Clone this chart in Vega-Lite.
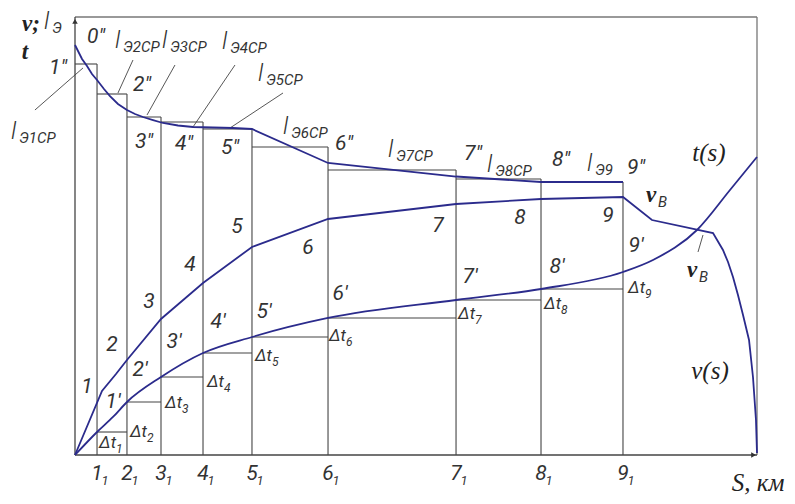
{
"$schema":"https://vega.github.io/schema/vega-lite/v6.json",
"width":682,"height":438,"autosize":"none",
"padding":{"left":75,"top":17,"right":38,"bottom":49},
"background":"white",
"config":{"view":{"stroke":null}},
"datasets":{
 "frame":[{"x":0,"y":100,"x2":100,"y2":100},{"x":100,"y":0,"x2":100,"y2":100}],
 "axes":[{"x":0,"y":0,"x2":0,"y2":100},{"x":0,"y":0,"x2":100,"y2":0}],
 "grid":[
  {"x":3.23,"x2":3.23,"y":0,"y2":89.27},{"x":7.62,"x2":7.62,"y":0,"y2":82.42},{"x":12.61,"x2":12.61,"y":0,"y2":77.17},
  {"x":18.77,"x2":18.77,"y":0,"y2":76.03},{"x":25.95,"x2":25.95,"y":0,"y2":74.43},{"x":37.10,"x2":37.10,"y":0,"y2":70.32},
  {"x":55.87,"x2":55.87,"y":0,"y2":65.07},{"x":68.33,"x2":68.33,"y":0,"y2":63.01},{"x":80.35,"x2":80.35,"y":0,"y2":62.33},
  {"x":0,"x2":3.23,"y":89.27,"y2":89.27},{"x":3.23,"x2":7.62,"y":82.42,"y2":82.42},{"x":7.62,"x2":12.61,"y":77.17,"y2":77.17},
  {"x":12.61,"x2":18.77,"y":76.03,"y2":76.03},{"x":18.77,"x2":25.95,"y":74.43,"y2":74.43},{"x":25.95,"x2":37.10,"y":70.32,"y2":70.32},
  {"x":37.10,"x2":55.87,"y":65.07,"y2":65.07},{"x":55.87,"x2":68.33,"y":63.01,"y2":63.01},{"x":68.33,"x2":80.35,"y":62.33,"y2":62.33},
  {"x":3.23,"x2":7.62,"y":5.25,"y2":5.25},{"x":7.62,"x2":12.61,"y":12.10,"y2":12.10},{"x":12.61,"x2":18.77,"y":17.81,"y2":17.81},
  {"x":18.77,"x2":25.95,"y":23.29,"y2":23.29},{"x":25.95,"x2":37.10,"y":26.94,"y2":26.94},{"x":37.10,"x2":55.87,"y":31.28,"y2":31.28},
  {"x":55.87,"x2":68.33,"y":35.39,"y2":35.39},{"x":68.33,"x2":80.35,"y":37.90,"y2":37.90}
 ],
 "leaders":[
  {"x":-5.87,"y":78.77,"x2":1.17,"y2":88.36},
  {"x":6.30,"y":82.65,"x2":8.50,"y2":90.18},
  {"x":10.56,"y":77.63,"x2":14.66,"y2":89.04},
  {"x":17.30,"y":74.89,"x2":23.46,"y2":89.04},
  {"x":22.73,"y":74.66,"x2":30.50,"y2":82.65},
  {"x":91.35,"y":46.35,"x2":92.08,"y2":50.23}
 ],
 "polylines":[
  {"s":"l","i":0,"x":0,"y":93.61},{"s":"l","i":1,"x":0.44,"y":92.24},{"s":"l","i":2,"x":1.03,"y":90.41},{"s":"l","i":3,"x":1.76,"y":88.81},
  {"s":"l","i":4,"x":2.49,"y":86.99},{"s":"l","i":5,"x":3.23,"y":85.62},{"s":"l","i":6,"x":4.25,"y":83.56},{"s":"l","i":7,"x":5.13,"y":81.96},
  {"s":"l","i":8,"x":6.30,"y":80.14},{"s":"l","i":9,"x":7.62,"y":78.77},{"s":"l","i":10,"x":8.80,"y":77.85},{"s":"l","i":11,"x":9.97,"y":77.17},
  {"s":"l","i":12,"x":11.44,"y":76.48},{"s":"l","i":13,"x":12.90,"y":75.80},{"s":"l","i":14,"x":15.10,"y":75.23},{"s":"l","i":15,"x":17.30,"y":74.89},
  {"s":"l","i":16,"x":20.23,"y":74.77},{"s":"l","i":17,"x":23.17,"y":74.66},{"s":"l","i":18,"x":25.95,"y":74.43},{"s":"l","i":19,"x":37.10,"y":66.67},
  {"s":"l","i":20,"x":55.87,"y":63.58},{"s":"l","i":21,"x":68.33,"y":62.33},{"s":"l","i":22,"x":80.35,"y":62.33},
  {"s":"v","i":0,"x":0,"y":0},{"s":"v","i":1,"x":3.96,"y":14.61},{"s":"v","i":2,"x":6.01,"y":18.49},{"s":"v","i":3,"x":7.62,"y":21.69},
  {"s":"v","i":4,"x":12.61,"y":31.05},
  {"s":"v","i":5,"x":18.77,"y":39.27},{"s":"v","i":6,"x":25.95,"y":47.49},{"s":"v","i":7,"x":37.10,"y":53.88},{"s":"v","i":8,"x":55.87,"y":57.31},
  {"s":"v","i":9,"x":68.33,"y":58.45},{"s":"v","i":10,"x":80.35,"y":58.90},{"s":"v","i":11,"x":84.60,"y":53.65},{"s":"v","i":12,"x":93.55,"y":50.68},
  {"s":"v","i":13,"x":95.01,"y":46.80},{"s":"v","i":14,"x":95.75,"y":44.06},{"s":"v","i":15,"x":96.48,"y":40.64},{"s":"v","i":16,"x":97.21,"y":36.53},
  {"s":"v","i":17,"x":97.95,"y":31.96},{"s":"v","i":18,"x":98.83,"y":26.26},{"s":"v","i":19,"x":99.41,"y":17.81},{"s":"v","i":20,"x":99.85,"y":7.99},
  {"s":"v","i":21,"x":100,"y":0.46}
 ],
 "smooth":[
  {"s":"t","i":0,"x":0,"y":0},{"s":"t","i":1,"x":3.23,"y":5.25},{"s":"t","i":2,"x":5.57,"y":8.68},{"s":"t","i":3,"x":7.62,"y":12.10},
  {"s":"t","i":4,"x":12.61,"y":17.81},{"s":"t","i":5,"x":18.77,"y":23.29},{"s":"t","i":6,"x":25.95,"y":26.94},{"s":"t","i":7,"x":37.10,"y":31.28},
  {"s":"t","i":8,"x":55.87,"y":35.39},{"s":"t","i":9,"x":68.33,"y":37.90},{"s":"t","i":10,"x":80.35,"y":41.78},{"s":"t","i":11,"x":84.75,"y":44.52},
  {"s":"t","i":12,"x":91.20,"y":51.37},{"s":"t","i":13,"x":96.04,"y":60.50},{"s":"t","i":14,"x":100,"y":68.04}
 ],
 "arrowUp":[{"x":0,"y":99}],
 "arrowRight":[{"x":99.5,"y":0}],
 "labels":[
  {"x":3.08,"y":95.43,"text":"0″"},{"x":-2.49,"y":88.36,"text":"1″"},{"x":9.82,"y":84.47,"text":"2″"},{"x":10.12,"y":71.46,"text":"3″"},
  {"x":15.98,"y":71.00,"text":"4″"},{"x":22.73,"y":70.09,"text":"5″"},{"x":39.44,"y":71.00,"text":"6″"},{"x":58.36,"y":68.72,"text":"7″"},
  {"x":71.26,"y":67.35,"text":"8″"},{"x":82.26,"y":65.53,"text":"9″"},
  {"x":1.76,"y":15.53,"text":"1"},{"x":5.43,"y":25.11,"text":"2"},{"x":10.85,"y":34.93,"text":"3"},{"x":16.86,"y":43.38,"text":"4"},
  {"x":23.75,"y":52.05,"text":"5"},{"x":34.16,"y":47.26,"text":"6"},{"x":53.23,"y":52.28,"text":"7"},{"x":65.25,"y":54.11,"text":"8"},
  {"x":78.15,"y":54.57,"text":"9"},
  {"x":5.57,"y":12.10,"text":"1′"},{"x":9.53,"y":19.41,"text":"2′"},{"x":14.52,"y":25.80,"text":"3′"},{"x":20.97,"y":30.37,"text":"4′"},
  {"x":27.71,"y":32.65,"text":"5′"},{"x":38.86,"y":36.76,"text":"6′"},{"x":57.92,"y":40.64,"text":"7′"},{"x":70.67,"y":42.92,"text":"8′"},
  {"x":82.26,"y":47.72,"text":"9′"}
 ],
 "dts":[
  {"x":3.52,"y":2.74,"n":"1"},{"x":8.06,"y":5.25,"n":"2"},{"x":13.20,"y":11.87,"n":"3"},{"x":19.35,"y":16.67,"n":"4"},
  {"x":26.39,"y":22.60,"n":"5"},{"x":37.24,"y":27.17,"n":"6"},{"x":56.16,"y":32.19,"n":"7"},{"x":68.77,"y":34.47,"n":"8"},
  {"x":81.09,"y":38.13,"n":"9"}
 ],
 "ls":[
  {"x":-9.38,"y":73.74,"sub":"Э1СР"},{"x":5.87,"y":94.52,"sub":"Э2СР"},{"x":12.76,"y":94.52,"sub":"Э3СР"},
  {"x":21.55,"y":94.29,"sub":"Э4СР"},{"x":26.83,"y":86.99,"sub":"Э5СР"},{"x":30.50,"y":74.89,"sub":"Э6СР"},
  {"x":45.89,"y":69.63,"sub":"Э7СР"},{"x":60.41,"y":66.21,"sub":"Э8СР"},{"x":75.07,"y":66.44,"sub":"Э9"},
  {"x":-4.55,"y":98.86,"sub":"Э"}
 ],
 "ticks":[
  {"x":3.23,"y":-4.34,"n":"1"},{"x":7.62,"y":-4.34,"n":"2"},{"x":12.61,"y":-4.34,"n":"3"},{"x":18.77,"y":-4.34,"n":"4"},
  {"x":25.95,"y":-4.34,"n":"5"},{"x":37.10,"y":-4.34,"n":"6"},{"x":55.87,"y":-4.34,"n":"7"},{"x":68.33,"y":-4.34,"n":"8"},
  {"x":80.35,"y":-4.34,"n":"9"}
 ],
 "serif":[
  {"x":92.96,"y":68.95,"text":"t(s)"},{"x":93.11,"y":19.18,"text":"v(s)"},{"x":100.15,"y":-6.39,"text":"S, км"}
 ],
 "serifBold":[
  {"x":-6.45,"y":98.40,"text":"v;"},{"x":-7.33,"y":92.01,"text":"t"}
 ],
 "vb":[{"x":84.46,"y":59.36},{"x":90.47,"y":42.24}]
},
"encoding":{
 "x":{"field":"x","type":"quantitative","scale":{"domain":[0,100],"nice":false,"zero":false},"axis":null},
 "y":{"field":"y","type":"quantitative","scale":{"domain":[0,100],"nice":false,"zero":false},"axis":null}
},
"layer":[
 {"data":{"name":"grid"},"mark":{"type":"rule","color":"#444444","strokeWidth":1.1},
  "encoding":{"x2":{"field":"x2"},"y2":{"field":"y2"}}},
 {"data":{"name":"leaders"},"mark":{"type":"rule","color":"#444444","strokeWidth":0.9},
  "encoding":{"x2":{"field":"x2"},"y2":{"field":"y2"}}},
 {"data":{"name":"frame"},"mark":{"type":"rule","color":"#777777","strokeWidth":1.3},
  "encoding":{"x2":{"field":"x2"},"y2":{"field":"y2"}}},
 {"data":{"name":"axes"},"mark":{"type":"rule","color":"#444444","strokeWidth":1.3},
  "encoding":{"x2":{"field":"x2"},"y2":{"field":"y2"}}},
 {"data":{"name":"arrowUp"},"mark":{"type":"point","shape":"triangle-up","filled":true,"color":"#333333","size":30,"opacity":1}},
 {"data":{"name":"arrowRight"},"mark":{"type":"point","shape":"triangle-right","filled":true,"color":"#333333","size":30,"opacity":1}},
 {"data":{"name":"polylines"},"mark":{"type":"line","color":"#2b2b8c","strokeWidth":1.8,"interpolate":"linear"},
  "encoding":{"detail":{"field":"s"},"order":{"field":"i","type":"quantitative"}}},
 {"data":{"name":"smooth"},"mark":{"type":"line","color":"#2b2b8c","strokeWidth":1.8,"interpolate":"monotone"},
  "encoding":{"detail":{"field":"s"},"order":{"field":"i","type":"quantitative"}}},
 {"data":{"name":"labels"},"mark":{"type":"text","font":"Roboto","fontWeight":"normal","fontStyle":"italic","fontSize":21,"color":"#333333","align":"center","baseline":"middle"},
  "encoding":{"text":{"field":"text"}}},
 {"data":{"name":"dts"},"mark":{"type":"text","font":"Roboto","fontWeight":"normal","fontStyle":"italic","fontSize":17,"color":"#333333","align":"left","baseline":"middle","text":"Δt"}},
 {"data":{"name":"dts"},"mark":{"type":"text","font":"Roboto","fontWeight":"normal","fontStyle":"italic","fontSize":12,"color":"#333333","align":"left","baseline":"middle","dx":17,"dy":6},
  "encoding":{"text":{"field":"n"}}},
 {"data":{"name":"ls"},"mark":{"type":"text","font":"Roboto","fontWeight":300,"fontStyle":"italic","fontSize":24,"color":"#333333","align":"left","baseline":"middle","text":"l"}},
 {"data":{"name":"ls"},"mark":{"type":"text","font":"Roboto","fontWeight":"normal","fontStyle":"italic","fontSize":15,"color":"#333333","align":"left","baseline":"middle","dx":8,"dy":6},
  "encoding":{"text":{"field":"sub"}}},
 {"data":{"name":"ticks"},"mark":{"type":"text","font":"Roboto","fontWeight":"normal","fontStyle":"italic","fontSize":21,"color":"#333333","align":"center","baseline":"middle"},
  "encoding":{"text":{"field":"n"}}},
 {"data":{"name":"ticks"},"mark":{"type":"text","font":"Roboto","fontWeight":"normal","fontStyle":"italic","fontSize":13,"color":"#333333","align":"center","baseline":"middle","dx":8,"dy":7,"text":"1"}},
 {"data":{"name":"serif"},"mark":{"type":"text","font":"Liberation Serif","fontStyle":"italic","fontSize":25,"color":"#222222","align":"center","baseline":"middle"},
  "encoding":{"text":{"field":"text"}}},
 {"data":{"name":"serifBold"},"mark":{"type":"text","font":"Liberation Serif","fontStyle":"italic","fontWeight":"bold","fontSize":23,"color":"#222222","align":"center","baseline":"middle"},
  "encoding":{"text":{"field":"text"}}},
 {"data":{"name":"vb"},"mark":{"type":"text","font":"Liberation Serif","fontStyle":"italic","fontWeight":"bold","fontSize":23,"color":"#222222","align":"center","baseline":"middle","text":"v"}},
 {"data":{"name":"vb"},"mark":{"type":"text","font":"Roboto","fontWeight":"normal","fontStyle":"italic","fontSize":15,"color":"#333333","align":"left","baseline":"middle","dx":7,"dy":7,"text":"B"}}
]
}
